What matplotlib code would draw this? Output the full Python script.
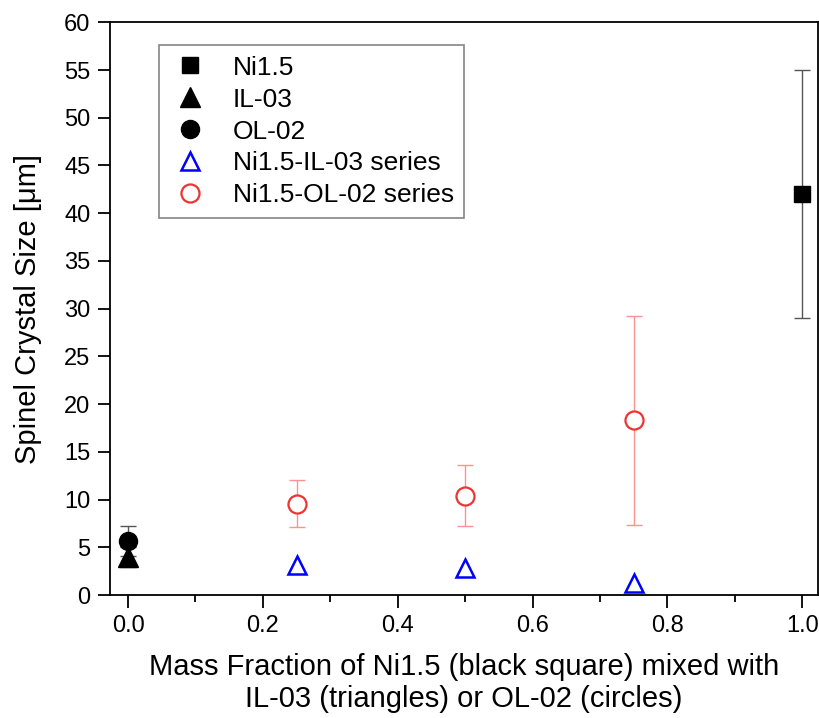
import matplotlib
matplotlib.use("Agg")
import matplotlib.pyplot as plt
import numpy as np

plt.rcParams['font.family'] = ['Liberation Sans', 'DejaVu Sans']

# pure materials
ni_x = [1.0]
ni_y = [42.0]
ni_err = [13.0]
il_x = [0.0]
il_y = [4.0]
il_err = [1.0]
ol_x = [0.0]
ol_y = [5.7]
ol_err = [1.6]

# mixtures
il_series_x = [0.25, 0.5, 0.75]
il_series_y = [3.2, 2.8, 1.3]
ol_series_x = [0.25, 0.5, 0.75]
ol_series_y = [9.6, 10.4, 18.3]
ol_series_err = [2.5, 3.2, 10.9]

fig = plt.figure(figsize=(8.2, 7.18), dpi=100)
ax = fig.add_axes([0.134, 0.171, 0.864, 0.798])

ax.errorbar(ni_x, ni_y, yerr=ni_err, fmt='none', ecolor='#555555',
            elinewidth=1, capsize=6)
ax.errorbar(il_x, il_y, yerr=il_err, fmt='none', ecolor='#555555',
            elinewidth=1, capsize=6)
ax.errorbar(ol_x, ol_y, yerr=ol_err, fmt='none', ecolor='#555555',
            elinewidth=1, capsize=6)
ax.errorbar(ol_series_x, ol_series_y, yerr=ol_series_err, fmt='none',
            ecolor='#ff9090', elinewidth=1, capsize=6)

ax.plot(ni_x, ni_y, 's', color='black', markersize=11, label='Ni1.5')
ax.plot(il_x, il_y, '^', color='black', markersize=15, label='IL-03')
ax.plot(ol_x, ol_y, 'o', color='black', markersize=13, label='OL-02')
ax.plot(il_series_x, il_series_y, '^', markerfacecolor='white',
        markeredgecolor='blue', markeredgewidth=1.8, markersize=13,
        linestyle='none', label='Ni1.5-IL-03 series')
ax.plot(ol_series_x, ol_series_y, 'o', markerfacecolor='white',
        markeredgecolor='#ee3333', markeredgewidth=1.6, markersize=13,
        linestyle='none', label='Ni1.5-OL-02 series')

ax.set_xlim(-0.027, 1.024)
ax.set_ylim(0, 60)
ax.set_xticks(np.arange(0, 1.01, 0.2))
ax.set_xticks(np.arange(0, 1.01, 0.1), minor=True)
ax.set_xticklabels(['0.0', '0.2', '0.4', '0.6', '0.8', '1.0'])
ax.set_yticks(np.arange(0, 61, 5))
ax.tick_params(axis='both', which='major', direction='out', length=9,
               width=1.3, labelsize=17, pad=5)
ax.tick_params(axis='x', which='minor', direction='out', length=5, width=1.3)
for s in ax.spines.values():
    s.set_linewidth(1.3)

ax.set_ylabel('Spinel Crystal Size [μm]', fontsize=21, labelpad=16)
ax.set_xlabel('Mass Fraction of Ni1.5 (black square) mixed with\nIL-03 (triangles) or OL-02 (circles)',
              fontsize=21, labelpad=12, linespacing=1.15)

leg = ax.legend(loc='upper left', bbox_to_anchor=(0.069, 0.96), fontsize=19,
                frameon=True, fancybox=False, edgecolor='#666666',
                handletextpad=0.8, labelspacing=0.3, borderpad=0.4,
                handlelength=1.6, borderaxespad=0)
leg.get_frame().set_linewidth(1.2)

fig.savefig('out.png', dpi=100)
